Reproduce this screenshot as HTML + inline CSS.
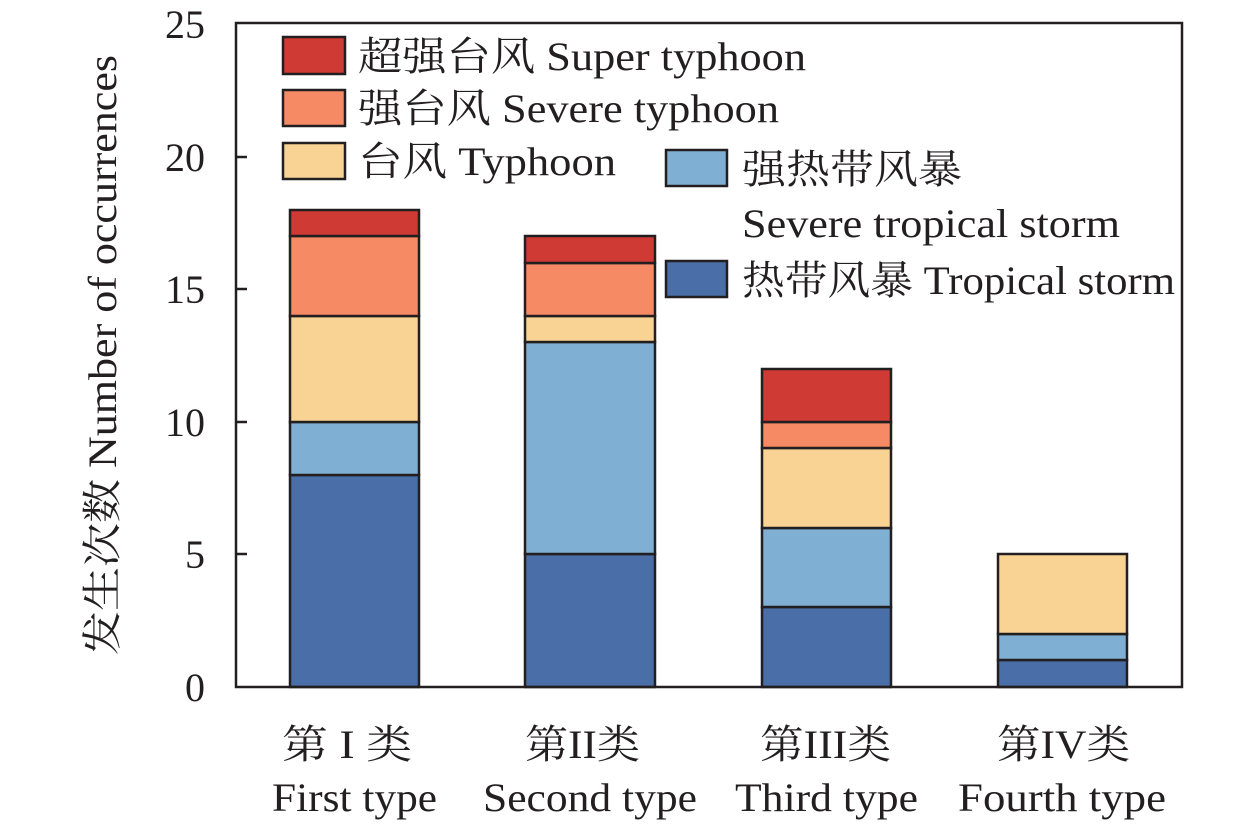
<!DOCTYPE html>
<html><head><meta charset="utf-8"><style>
html,body{margin:0;padding:0;background:#fff;}
svg{display:block;}
text{font-family:"Liberation Serif","Noto Serif CJK SC",serif;fill:#231f20;}
</style></head><body>
<svg width="1259" height="827" viewBox="0 0 1259 827" xmlns="http://www.w3.org/2000/svg">
<g stroke="#231f20" stroke-width="2.5">
<rect x="290" y="475" width="129" height="212" fill="#4a6ea8"/>
<rect x="290" y="422" width="129" height="53" fill="#7fb0d3"/>
<rect x="290" y="316" width="129" height="106" fill="#f8d393"/>
<rect x="290" y="236" width="129" height="80" fill="#f58a64"/>
<rect x="290" y="210" width="129" height="26" fill="#d03a35"/>
<rect x="525" y="554" width="130" height="133" fill="#4a6ea8"/>
<rect x="525" y="342" width="130" height="212" fill="#7fb0d3"/>
<rect x="525" y="316" width="130" height="26" fill="#f8d393"/>
<rect x="525" y="263" width="130" height="53" fill="#f58a64"/>
<rect x="525" y="236" width="130" height="27" fill="#d03a35"/>
<rect x="762" y="607" width="129" height="80" fill="#4a6ea8"/>
<rect x="762" y="528" width="129" height="79" fill="#7fb0d3"/>
<rect x="762" y="448" width="129" height="80" fill="#f8d393"/>
<rect x="762" y="422" width="129" height="26" fill="#f58a64"/>
<rect x="762" y="369" width="129" height="53" fill="#d03a35"/>
<rect x="998" y="660" width="129" height="27" fill="#4a6ea8"/>
<rect x="998" y="634" width="129" height="26" fill="#7fb0d3"/>
<rect x="998" y="554" width="129" height="80" fill="#f8d393"/>
<rect x="283" y="37" width="62" height="37" fill="#d03a35"/>
<rect x="283" y="90" width="62" height="36" fill="#f58a64"/>
<rect x="283" y="143" width="62" height="36" fill="#f8d393"/>
<rect x="666" y="150" width="61" height="36" fill="#7fb0d3"/>
<rect x="666" y="261" width="61" height="36" fill="#4a6ea8"/>
</g>
<rect x="236" y="23" width="946" height="664" fill="none" stroke="#231f20" stroke-width="2.5"/>
<g stroke="#231f20" stroke-width="2.5">
<line x1="236" y1="554" x2="247" y2="554"/>
<line x1="236" y1="422" x2="247" y2="422"/>
<line x1="236" y1="289" x2="247" y2="289"/>
<line x1="236" y1="157" x2="247" y2="157"/>
</g>
<g font-size="40" text-anchor="end">
<text x="205" y="701">0</text>
<text x="205" y="568">5</text>
<text x="205" y="436">10</text>
<text x="205" y="303">15</text>
<text x="205" y="171">20</text>
<text x="205" y="38">25</text>
</g>
<text transform="translate(116,355) rotate(-90)" text-anchor="middle" font-size="40" textLength="600" lengthAdjust="spacingAndGlyphs">发生次数 Number of occurrences</text>
<g font-size="40" lengthAdjust="spacingAndGlyphs">
<text x="358" y="70" textLength="448" lengthAdjust="spacingAndGlyphs">超强台风 Super typhoon</text>
<text x="358" y="122" textLength="421" lengthAdjust="spacingAndGlyphs">强台风 Severe typhoon</text>
<text x="358" y="175" textLength="258" lengthAdjust="spacingAndGlyphs">台风 Typhoon</text>
<text x="742" y="183" textLength="220" lengthAdjust="spacingAndGlyphs">强热带风暴</text>
<text x="742" y="237" textLength="378" lengthAdjust="spacingAndGlyphs">Severe tropical storm</text>
<text x="742" y="294" textLength="433" lengthAdjust="spacingAndGlyphs">热带风暴 Tropical storm</text>
</g>
<g font-size="40">
<text x="282" y="758" textLength="130" lengthAdjust="spacingAndGlyphs">第 I 类</text>
<text x="272" y="811" textLength="165" lengthAdjust="spacingAndGlyphs">First type</text>
<text x="525" y="758" textLength="115" lengthAdjust="spacingAndGlyphs">第II类</text>
<text x="483" y="811" textLength="214" lengthAdjust="spacingAndGlyphs">Second type</text>
<text x="760" y="758" textLength="131" lengthAdjust="spacingAndGlyphs">第III类</text>
<text x="735" y="811" textLength="183" lengthAdjust="spacingAndGlyphs">Third type</text>
<text x="997" y="758" textLength="133" lengthAdjust="spacingAndGlyphs">第IV类</text>
<text x="958" y="811" textLength="208" lengthAdjust="spacingAndGlyphs">Fourth type</text>
</g>
</svg>
</body></html>
